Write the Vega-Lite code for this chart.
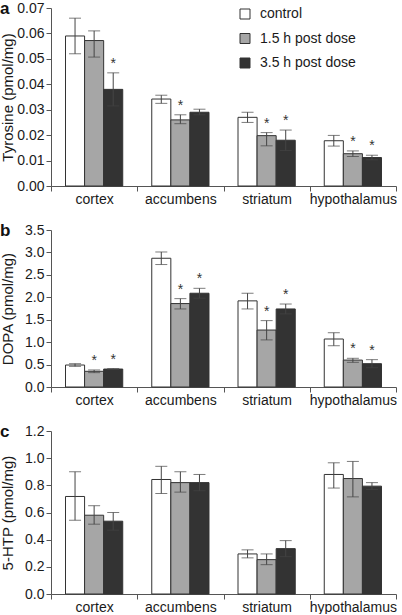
{
  "$schema": "https://vega.github.io/schema/vega-lite/v6.json",
  "padding": {"top": 0, "left": 0, "right": 0, "bottom": 0},
  "background": "white",
  "spacing": 16,
  "config": {
    "font": "Liberation Sans",
    "view": {"stroke": null},
    "axis": {
      "domainColor": "#555",
      "tickColor": "#555",
      "labelColor": "#1a1a1a",
      "titleColor": "#1a1a1a",
      "labelFont": "Liberation Sans",
      "titleFont": "Liberation Sans",
      "labelFontSize": 14,
      "titleFontSize": 15,
      "titleFontWeight": "normal",
      "grid": false,
      "tickSize": 5,
      "labelOverlap": false
    },
    "title": {"font": "Liberation Sans", "fontSize": 17, "fontWeight": "bold", "color": "#111", "anchor": "start", "frame": "bounds", "offset": 4, "dy": 21}
  },
  "resolve": {"legend": {"fill": "independent"}},
  "datasets": {
    "tyr": [
      {"region": "cortex", "group": "control", "mean": 0.059, "lo": 0.052, "hi": 0.066, "sig": false},
      {"region": "cortex", "group": "1.5 h post dose", "mean": 0.0572, "lo": 0.0507, "hi": 0.061, "sig": false},
      {"region": "cortex", "group": "3.5 h post dose", "mean": 0.038, "lo": 0.0315, "hi": 0.0445, "sig": true},
      {"region": "accumbens", "group": "control", "mean": 0.0342, "lo": 0.0325, "hi": 0.0357, "sig": false},
      {"region": "accumbens", "group": "1.5 h post dose", "mean": 0.026, "lo": 0.0245, "hi": 0.028, "sig": true},
      {"region": "accumbens", "group": "3.5 h post dose", "mean": 0.029, "lo": 0.028, "hi": 0.0302, "sig": false},
      {"region": "striatum", "group": "control", "mean": 0.027, "lo": 0.025, "hi": 0.029, "sig": false},
      {"region": "striatum", "group": "1.5 h post dose", "mean": 0.0198, "lo": 0.0158, "hi": 0.021, "sig": true},
      {"region": "striatum", "group": "3.5 h post dose", "mean": 0.018, "lo": 0.014, "hi": 0.022, "sig": true},
      {"region": "hypothalamus", "group": "control", "mean": 0.0178, "lo": 0.0157, "hi": 0.0199, "sig": false},
      {"region": "hypothalamus", "group": "1.5 h post dose", "mean": 0.0127, "lo": 0.0116, "hi": 0.0138, "sig": true},
      {"region": "hypothalamus", "group": "3.5 h post dose", "mean": 0.0112, "lo": 0.0103, "hi": 0.0121, "sig": true}
    ],
    "dopa": [
      {"region": "cortex", "group": "control", "mean": 0.49, "lo": 0.46, "hi": 0.52, "sig": false},
      {"region": "cortex", "group": "1.5 h post dose", "mean": 0.35, "lo": 0.32, "hi": 0.38, "sig": true},
      {"region": "cortex", "group": "3.5 h post dose", "mean": 0.40, "lo": 0.39, "hi": 0.41, "sig": true},
      {"region": "accumbens", "group": "control", "mean": 2.87, "lo": 2.73, "hi": 3.01, "sig": false},
      {"region": "accumbens", "group": "1.5 h post dose", "mean": 1.86, "lo": 1.74, "hi": 1.97, "sig": true},
      {"region": "accumbens", "group": "3.5 h post dose", "mean": 2.09, "lo": 1.98, "hi": 2.2, "sig": true},
      {"region": "striatum", "group": "control", "mean": 1.92, "lo": 1.74, "hi": 2.09, "sig": false},
      {"region": "striatum", "group": "1.5 h post dose", "mean": 1.27, "lo": 1.05, "hi": 1.48, "sig": true},
      {"region": "striatum", "group": "3.5 h post dose", "mean": 1.74, "lo": 1.63, "hi": 1.85, "sig": true},
      {"region": "hypothalamus", "group": "control", "mean": 1.07, "lo": 0.92, "hi": 1.21, "sig": false},
      {"region": "hypothalamus", "group": "1.5 h post dose", "mean": 0.6, "lo": 0.55, "hi": 0.64, "sig": true},
      {"region": "hypothalamus", "group": "3.5 h post dose", "mean": 0.52, "lo": 0.43, "hi": 0.61, "sig": true}
    ],
    "htp": [
      {"region": "cortex", "group": "control", "mean": 0.718, "lo": 0.543, "hi": 0.9, "sig": false},
      {"region": "cortex", "group": "1.5 h post dose", "mean": 0.58, "lo": 0.514, "hi": 0.65, "sig": false},
      {"region": "cortex", "group": "3.5 h post dose", "mean": 0.536, "lo": 0.47, "hi": 0.6, "sig": false},
      {"region": "accumbens", "group": "control", "mean": 0.843, "lo": 0.74, "hi": 0.94, "sig": false},
      {"region": "accumbens", "group": "1.5 h post dose", "mean": 0.82, "lo": 0.75, "hi": 0.9, "sig": false},
      {"region": "accumbens", "group": "3.5 h post dose", "mean": 0.82, "lo": 0.76, "hi": 0.88, "sig": false},
      {"region": "striatum", "group": "control", "mean": 0.295, "lo": 0.266, "hi": 0.325, "sig": false},
      {"region": "striatum", "group": "1.5 h post dose", "mean": 0.253, "lo": 0.216, "hi": 0.295, "sig": false},
      {"region": "striatum", "group": "3.5 h post dose", "mean": 0.334, "lo": 0.275, "hi": 0.393, "sig": false},
      {"region": "hypothalamus", "group": "control", "mean": 0.88, "lo": 0.78, "hi": 0.966, "sig": false},
      {"region": "hypothalamus", "group": "1.5 h post dose", "mean": 0.85, "lo": 0.715, "hi": 0.976, "sig": false},
      {"region": "hypothalamus", "group": "3.5 h post dose", "mean": 0.794, "lo": 0.77, "hi": 0.82, "sig": false}
    ]
  },
  "vconcat": [
    {
      "title": {"text": "a"},
      "width": 345,
      "height": 178,
      "data": {"name": "tyr"},
      "encoding": {
        "x": {"field": "region", "type": "nominal", "sort": ["cortex", "accumbens", "striatum", "hypothalamus"],
              "scale": {"paddingInner": 0, "paddingOuter": 0},
              "axis": {"title": null, "labelAngle": 0, "tickBand": "extent", "labelPadding": 1}},
        "xOffset": {"field": "group", "type": "nominal", "sort": ["control", "1.5 h post dose", "3.5 h post dose"],
                    "scale": {"paddingInner": 0, "paddingOuter": 0.76}}
      },
      "layer": [
        {
          "mark": {"type": "bar", "stroke": "#333", "strokeWidth": 1},
          "encoding": {
            "y": {"field": "mean", "type": "quantitative", "title": "Tyrosine (pmol/mg)",
                  "scale": {"domain": [0, 0.07], "nice": false},
                  "axis": {"values": [0, 0.01, 0.02, 0.03, 0.04, 0.05, 0.06, 0.07], "labelOverlap": false, "format": ".2f", "minExtent": 34, "maxExtent": 34, "titlePadding": 2}},
            "fill": {"field": "group", "type": "nominal", "sort": ["control", "1.5 h post dose", "3.5 h post dose"],
                     "scale": {"domain": ["control", "1.5 h post dose", "3.5 h post dose"], "range": ["#ffffff", "#a6a6a6", "#333333"]},
                     "legend": {"title": null, "orient": "none", "legendX": 187, "legendY": -1, "symbolType": "square", "symbolSize": 100,
                                "symbolStrokeColor": "#333", "symbolStrokeWidth": 1, "rowPadding": 10.5, "labelOffset": 8,
                                "labelFont": "Liberation Sans", "labelFontSize": 14, "labelColor": "#1a1a1a"}}
          }
        },
        {
          "mark": {"type": "rule", "color": "#444", "strokeWidth": 1},
          "encoding": {"y": {"field": "lo", "type": "quantitative", "title": "Tyrosine (pmol/mg)",
                  "axis": {"values": [0, 0.01, 0.02, 0.03, 0.04, 0.05, 0.06, 0.07], "labelOverlap": false, "format": ".2f", "minExtent": 34, "maxExtent": 34, "titlePadding": 2}}, "y2": {"field": "hi"}}
        },
        {
          "mark": {"type": "tick", "color": "#444", "size": 12, "thickness": 1},
          "encoding": {"y": {"field": "hi", "type": "quantitative", "title": "Tyrosine (pmol/mg)",
                  "axis": {"values": [0, 0.01, 0.02, 0.03, 0.04, 0.05, 0.06, 0.07], "labelOverlap": false, "format": ".2f", "minExtent": 34, "maxExtent": 34, "titlePadding": 2}}}
        },
        {
          "mark": {"type": "tick", "color": "#444", "size": 12, "thickness": 1},
          "encoding": {"y": {"field": "lo", "type": "quantitative", "title": "Tyrosine (pmol/mg)",
                  "axis": {"values": [0, 0.01, 0.02, 0.03, 0.04, 0.05, 0.06, 0.07], "labelOverlap": false, "format": ".2f", "minExtent": 34, "maxExtent": 34, "titlePadding": 2}}}
        },
        {
          "transform": [{"filter": "datum.sig"}],
          "mark": {"type": "text", "text": "*", "fontSize": 14, "color": "#333", "baseline": "alphabetic", "dy": -5},
          "encoding": {"y": {"field": "hi", "type": "quantitative", "title": "Tyrosine (pmol/mg)",
                  "axis": {"values": [0, 0.01, 0.02, 0.03, 0.04, 0.05, 0.06, 0.07], "labelOverlap": false, "format": ".2f", "minExtent": 34, "maxExtent": 34, "titlePadding": 2}}}
        }
      ]
    },
    {
      "title": {"text": "b"},
      "width": 345,
      "height": 157,
      "data": {"name": "dopa"},
      "encoding": {
        "x": {"field": "region", "type": "nominal", "sort": ["cortex", "accumbens", "striatum", "hypothalamus"],
              "scale": {"paddingInner": 0, "paddingOuter": 0},
              "axis": {"title": null, "labelAngle": 0, "tickBand": "extent", "labelPadding": 1}},
        "xOffset": {"field": "group", "type": "nominal", "sort": ["control", "1.5 h post dose", "3.5 h post dose"],
                    "scale": {"paddingInner": 0, "paddingOuter": 0.76}}
      },
      "layer": [
        {
          "mark": {"type": "bar", "stroke": "#333", "strokeWidth": 1},
          "encoding": {
            "y": {"field": "mean", "type": "quantitative", "title": "DOPA (pmol/mg)",
                  "scale": {"domain": [0, 3.5], "nice": false},
                  "axis": {"values": [0, 0.5, 1, 1.5, 2, 2.5, 3, 3.5], "labelOverlap": false, "format": ".1f", "minExtent": 34, "maxExtent": 34, "titlePadding": 2}},
            "fill": {"field": "group", "type": "nominal",
                     "scale": {"domain": ["control", "1.5 h post dose", "3.5 h post dose"], "range": ["#ffffff", "#a6a6a6", "#333333"]},
                     "legend": null}
          }
        },
        {
          "mark": {"type": "rule", "color": "#444", "strokeWidth": 1},
          "encoding": {"y": {"field": "lo", "type": "quantitative", "title": "DOPA (pmol/mg)",
                  "axis": {"values": [0, 0.5, 1, 1.5, 2, 2.5, 3, 3.5], "labelOverlap": false, "format": ".1f", "minExtent": 34, "maxExtent": 34, "titlePadding": 2}}, "y2": {"field": "hi"}}
        },
        {
          "mark": {"type": "tick", "color": "#444", "size": 12, "thickness": 1},
          "encoding": {"y": {"field": "hi", "type": "quantitative", "title": "DOPA (pmol/mg)",
                  "axis": {"values": [0, 0.5, 1, 1.5, 2, 2.5, 3, 3.5], "labelOverlap": false, "format": ".1f", "minExtent": 34, "maxExtent": 34, "titlePadding": 2}}}
        },
        {
          "mark": {"type": "tick", "color": "#444", "size": 12, "thickness": 1},
          "encoding": {"y": {"field": "lo", "type": "quantitative", "title": "DOPA (pmol/mg)",
                  "axis": {"values": [0, 0.5, 1, 1.5, 2, 2.5, 3, 3.5], "labelOverlap": false, "format": ".1f", "minExtent": 34, "maxExtent": 34, "titlePadding": 2}}}
        },
        {
          "transform": [{"filter": "datum.sig"}],
          "mark": {"type": "text", "text": "*", "fontSize": 14, "color": "#333", "baseline": "alphabetic", "dy": -5},
          "encoding": {"y": {"field": "hi", "type": "quantitative", "title": "DOPA (pmol/mg)",
                  "axis": {"values": [0, 0.5, 1, 1.5, 2, 2.5, 3, 3.5], "labelOverlap": false, "format": ".1f", "minExtent": 34, "maxExtent": 34, "titlePadding": 2}}}
        }
      ]
    },
    {
      "title": {"text": "c"},
      "width": 345,
      "height": 163,
      "data": {"name": "htp"},
      "encoding": {
        "x": {"field": "region", "type": "nominal", "sort": ["cortex", "accumbens", "striatum", "hypothalamus"],
              "scale": {"paddingInner": 0, "paddingOuter": 0},
              "axis": {"title": null, "labelAngle": 0, "tickBand": "extent", "labelPadding": 1}},
        "xOffset": {"field": "group", "type": "nominal", "sort": ["control", "1.5 h post dose", "3.5 h post dose"],
                    "scale": {"paddingInner": 0, "paddingOuter": 0.76}}
      },
      "layer": [
        {
          "mark": {"type": "bar", "stroke": "#333", "strokeWidth": 1},
          "encoding": {
            "y": {"field": "mean", "type": "quantitative", "title": "5-HTP (pmol/mg)",
                  "scale": {"domain": [0, 1.2], "nice": false},
                  "axis": {"values": [0, 0.2, 0.4, 0.6, 0.8, 1, 1.2], "labelOverlap": false, "format": ".1f", "minExtent": 34, "maxExtent": 34, "titlePadding": 2}},
            "fill": {"field": "group", "type": "nominal",
                     "scale": {"domain": ["control", "1.5 h post dose", "3.5 h post dose"], "range": ["#ffffff", "#a6a6a6", "#333333"]},
                     "legend": null}
          }
        },
        {
          "mark": {"type": "rule", "color": "#444", "strokeWidth": 1},
          "encoding": {"y": {"field": "lo", "type": "quantitative", "title": "5-HTP (pmol/mg)",
                  "axis": {"values": [0, 0.2, 0.4, 0.6, 0.8, 1, 1.2], "labelOverlap": false, "format": ".1f", "minExtent": 34, "maxExtent": 34, "titlePadding": 2}}, "y2": {"field": "hi"}}
        },
        {
          "mark": {"type": "tick", "color": "#444", "size": 12, "thickness": 1},
          "encoding": {"y": {"field": "hi", "type": "quantitative", "title": "5-HTP (pmol/mg)",
                  "axis": {"values": [0, 0.2, 0.4, 0.6, 0.8, 1, 1.2], "labelOverlap": false, "format": ".1f", "minExtent": 34, "maxExtent": 34, "titlePadding": 2}}}
        },
        {
          "mark": {"type": "tick", "color": "#444", "size": 12, "thickness": 1},
          "encoding": {"y": {"field": "lo", "type": "quantitative", "title": "5-HTP (pmol/mg)",
                  "axis": {"values": [0, 0.2, 0.4, 0.6, 0.8, 1, 1.2], "labelOverlap": false, "format": ".1f", "minExtent": 34, "maxExtent": 34, "titlePadding": 2}}}
        }
      ]
    }
  ]
}
